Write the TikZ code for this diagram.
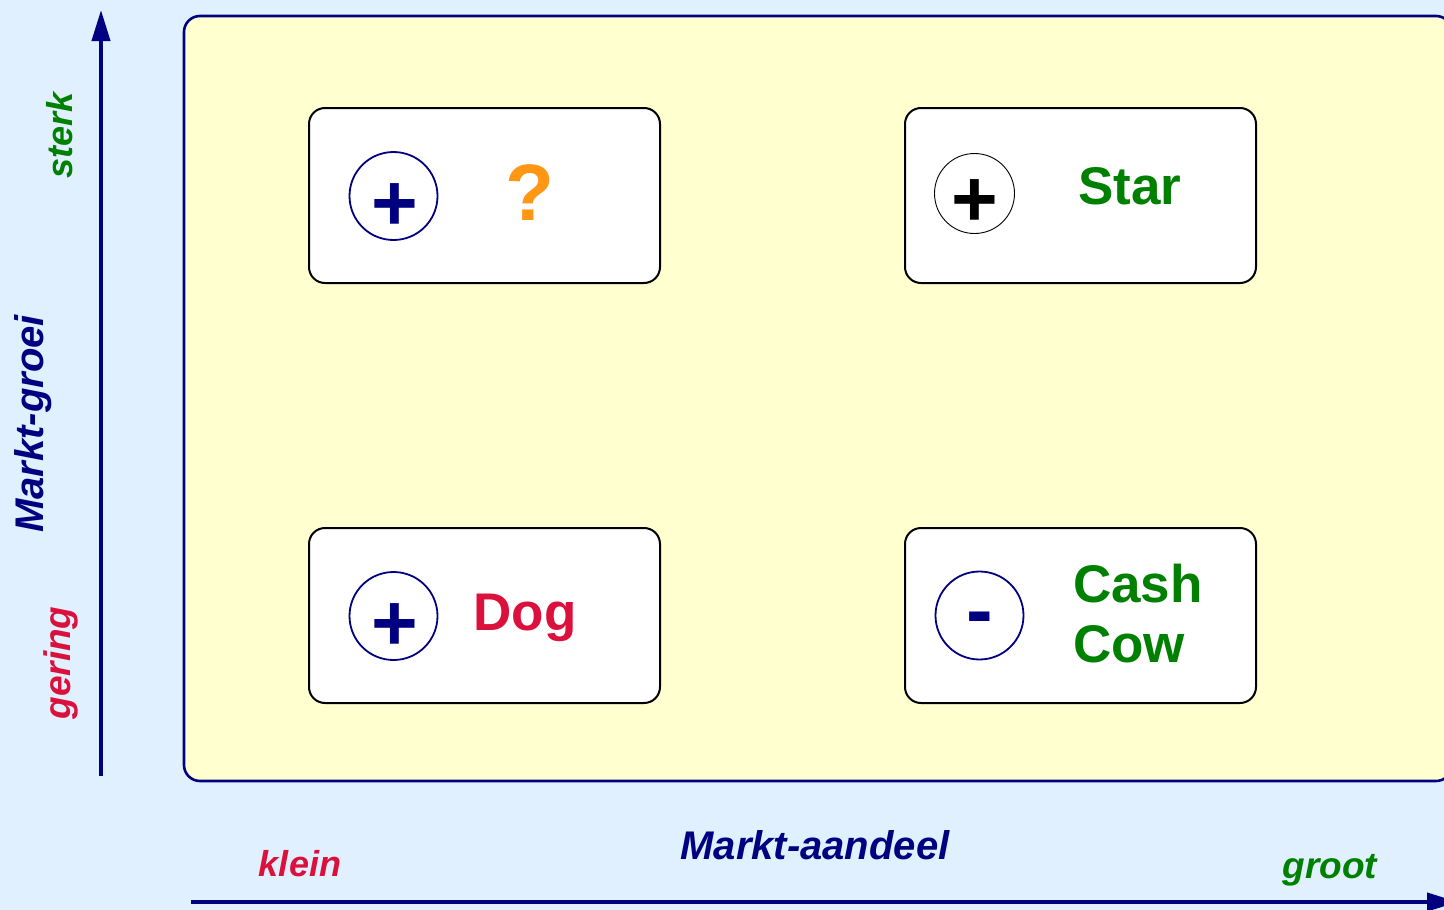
\documentclass[tikz,border=0pt]{standalone}
\usepackage{fontspec}
\setmainfont{Liberation Sans}
\usetikzlibrary{arrows.meta}
\definecolor{bgblue}{RGB}{224,240,255}
\definecolor{boxyellow}{RGB}{255,255,208}
\definecolor{navyc}{RGB}{0,0,128}
\definecolor{greenc}{RGB}{0,128,0}
\definecolor{redc}{RGB}{220,16,60}
\definecolor{orangec}{RGB}{255,150,20}
\tikzset{
  fs/.style={font=\fontsize{#1}{#1}\selectfont\bfseries},
  fsi/.style={font=\fontsize{#1}{#1}\selectfont\bfseries\itshape},
  cell/.style={draw=black, line width=2pt, fill=white, rounded corners=16pt,
    minimum width=351pt, minimum height=175pt, inner sep=0pt},
  ring/.style={circle, draw=navyc, line width=1.8pt, minimum size=88pt, inner sep=0pt},
  axis/.style={draw=navyc, line width=4pt, -{Triangle[length=31pt,width=18pt]}},
  sign/.style={fs=80, inner sep=0pt},
  lab/.style={inner sep=0pt},
}
\begin{document}
\begin{tikzpicture}[x=1pt,y=-1pt]
\useasboundingbox (0,0) rectangle (1444,910);
\clip (0,0) rectangle (1444,910);
\fill[bgblue] (0,0) rectangle (1444,910);
% main field
\draw[navyc, line width=2.6pt, fill=boxyellow, rounded corners=16pt] (184,16) rectangle (1452,781);
% axes
\coordinate (ybot) at (101,776);
\coordinate (ytop) at (101,10);
\coordinate (xleft) at (191,902);
\coordinate (xright) at (1458,902);
\draw[axis] (ybot) -- (ytop);
\draw[axis] (xleft) -- (xright);
% cells
\node[cell] (q) at (484.5,195.5) {};
\node[cell] (star) at (1080.5,195.5) {};
\node[cell] (dog) at (484.5,615.5) {};
\node[cell] (cash) at (1080.5,615.5) {};
% circles
\node[ring] (cq) at (393.5,196) {};
\node[ring, draw=black, line width=0.9pt, minimum size=80pt] (cs) at (974.5,193.5) {};
\node[ring] (cd) at (393.5,616) {};
\node[ring] (cc) at (979.5,615.5) {};
\node[sign, text=navyc] (pq) at (395,207) {+};
\node[sign, text=black] (ps) at (975,203) {+};
\node[sign, text=navyc] (pd) at (395,627) {+};
\node[sign, text=navyc] (mc) at (979.5,624.5) {-};
% cell texts
\node[lab, fs=80, text=orangec] (tq) at (530,193) {?};
\node[lab, fs=53, text=greenc] (ts) at (1130,186) {Star};
\node[lab, fs=53, text=redc, anchor=base] (td) at (525,630) {Dog};
\node[lab, text=greenc, anchor=base west, align=left,
      font=\fontsize{53}{60}\selectfont\bfseries] (tc) at (1073,662) {Cash\\Cow};
% axis labels
\node[lab, fsi=40, text=navyc] (mx) at (815,845) {Markt-aandeel};
\node[lab, fsi=36, text=redc] (klein) at (300,864) {klein};
\node[lab, fsi=37, text=greenc, anchor=base] (groot) at (1330,878) {groot};
\node[lab, fsi=36, text=greenc, anchor=base, rotate=90] (sterk) at (72,135) {sterk};
\node[lab, fsi=40, text=navyc, anchor=base, rotate=90] (my) at (43,424) {Markt-groei};
\node[lab, fsi=37, text=redc, anchor=base, rotate=90] (gering) at (70,663) {gering};
\end{tikzpicture}
\end{document}
